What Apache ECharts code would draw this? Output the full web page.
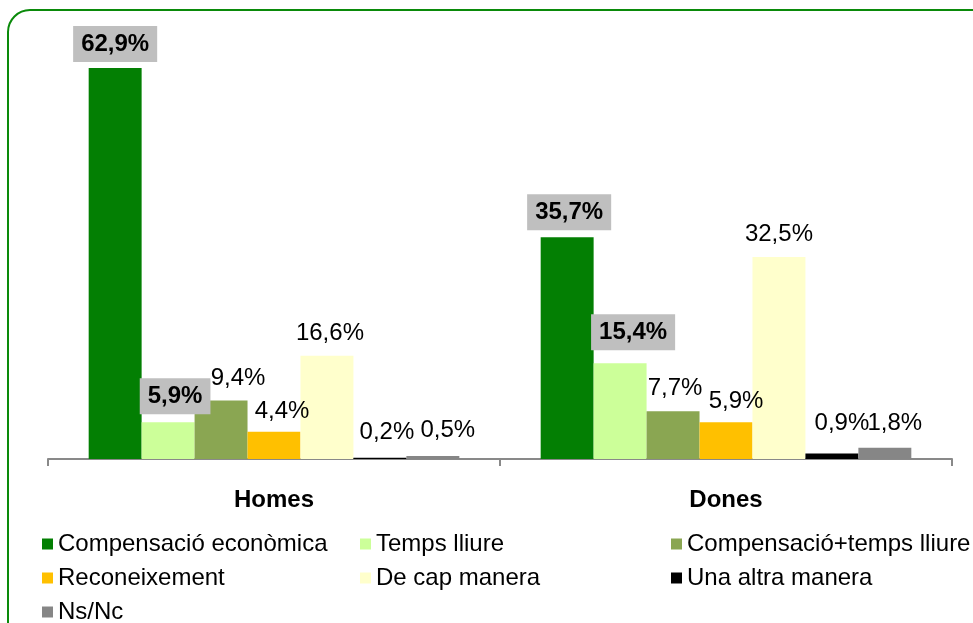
<!DOCTYPE html>
<html>
<head>
<meta charset="UTF-8">
<title>Compensació</title>
<script type="text/javascript" src="https://cdn.jsdelivr.net/npm/echarts@6/dist/echarts.min.js"></script>
<style type="text/css">
	html, body { margin: 0; padding: 0; background: #ffffff; }
	#main { width: 973px; height: 623px; }
</style>
</head>
<body>
<div id="main"></div>
<script type="text/javascript">
	// dades
	var categories = ['Homes', 'Dones'];
	var seriesNames = ['Compensació econòmica', 'Temps lliure', 'Compensació+temps lliure',
		'Reconeixement', 'De cap manera', 'Una altra manera', 'Ns/Nc'];
	var compEconomica = [62.9, 35.7];
	var tempsLliure = [5.9, 15.4];
	var compTemps = [9.4, 7.7];
	var reconeixement = [4.4, 5.9];
	var deCapManera = [16.6, 32.5];
	var altraManera = [0.2, 0.9];
	var nsNc = [0.5, 1.8];

	var values = [compEconomica, tempsLliure, compTemps, reconeixement, deCapManera, altraManera, nsNc];
	var colors = ['#037F03', '#CCFF99', '#8AA652', '#FFC000', '#FFFFCC', '#000000', '#868686'];
	// series with the grey boxed labels
	var boxed = [true, true, false, false, false, false, false];
	// label nudges [dx, distance] per series / category (Excel places them by hand)
	var labelShift = [
		[[0, 6], [2, 7]],
		[[7, 8], [13, 13]],
		[[17, 10], [2, 11]],
		[[8, 8], [10, 9]],
		[[3, 10], [0, 11]],
		[[7, 13], [10, 18]],
		[[15, 14], [10, 12]]
	];

	var font = "'Liberation Sans', Arial, sans-serif";

	function fmt(p) {
		return p.value.toFixed(1).replace('.', ',') + '%';
	}

	var series = [];
	for (var i = 0; i < seriesNames.length; i++) {
		var items = [];
		for (var j = 0; j < categories.length; j++) {
			items.push({
				value: values[i][j],
				label: {
					offset: [labelShift[i][j][0], 0],
					distance: labelShift[i][j][1]
				}
			});
		}
		var lbl = {
			show: true,
			position: 'top',
			formatter: fmt,
			fontFamily: font,
			fontSize: 24,
			color: '#000000'
		};
		if (boxed[i]) {
			lbl.fontWeight = 'bold';
			lbl.backgroundColor = '#BFBFBF';
			lbl.padding = [6, 8, 6, 8];
		}
		series.push({
			name: seriesNames[i],
			type: 'bar',
			barGap: '0%',
			barCategoryGap: '18%',
			itemStyle: { color: colors[i] },
			label: lbl,
			data: items
		});
	}

	var legendCommon = {
		orient: 'vertical',
		top: 527,
		height: 120,
		itemGap: 10,
		itemWidth: 11,
		itemHeight: 11,
		icon: 'rect',
		textStyle: { fontFamily: font, fontSize: 24, color: '#000000' }
	};

	var myChart = echarts.init(document.getElementById('main'));
	var option = {
		animation: false,
		grid: { left: 48, right: 21, top: 24, bottom: 164 },
		graphic: [{
			type: 'rect',
			shape: { x: 8, y: 10, width: 985, height: 635, r: 22 },
			style: { fill: 'none', stroke: '#0A8A0A', lineWidth: 2 },
			silent: true
		}],
		legend: [
			Object.assign({ left: 37, data: [seriesNames[0], seriesNames[3], seriesNames[6]] }, legendCommon),
			Object.assign({ left: 355, data: [seriesNames[1], seriesNames[4]] }, legendCommon),
			Object.assign({ left: 666, data: [seriesNames[2], seriesNames[5]] }, legendCommon)
		],
		xAxis: {
			type: 'category',
			data: categories,
			axisLine: { lineStyle: { color: '#898989', width: 2 } },
			axisTick: { show: true, length: 7, lineStyle: { color: '#898989', width: 2 } },
			axisLabel: { fontFamily: font, fontSize: 24, fontWeight: 'bold', color: '#000000', margin: 29 }
		},
		yAxis: {
			type: 'value',
			min: 0,
			max: 70,
			show: false,
			splitLine: { show: false }
		},
		series: series
	};
	myChart.setOption(option);
</script>
</body>
</html>
